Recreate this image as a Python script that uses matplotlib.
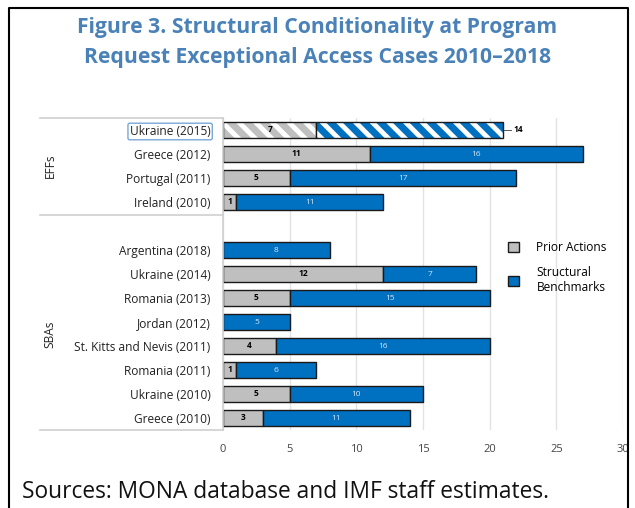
import numpy as np
import matplotlib
matplotlib.use('Agg')
import matplotlib.pyplot as plt
from matplotlib.patches import Patch
from matplotlib.lines import Line2D

plt.rcParams['font.family'] = ['Open Sans', 'DejaVu Sans']
plt.rcParams['hatch.linewidth'] = 3.5

# data, top to bottom
countries = ['Ukraine (2015)', 'Greece (2012)', 'Portugal (2011)', 'Ireland (2010)',
             'Argentina (2018)', 'Ukraine (2014)', 'Romania (2013)', 'Jordan (2012)',
             'St. Kitts and Nevis (2011)', 'Romania (2011)', 'Ukraine (2010)', 'Greece (2010)']
prior_actions = [7, 11, 5, 1, 0, 12, 5, 0, 4, 1, 5, 3]
benchmarks = [14, 16, 17, 11, 8, 7, 15, 5, 16, 6, 10, 11]
rows = [0, 1, 2, 3, 5, 6, 7, 8, 9, 10, 11, 12]
groups = ['EFFs', 'SBAs']
xticks = [0, 5, 10, 15, 20, 25, 30]

GRAY = '#BFBFBF'
BLUE = '#0070C0'
EDGE = '#1a1a1a'

fig = plt.figure(figsize=(6.35, 5.08), dpi=100)
ax = fig.add_axes([223/635, 1-430/508, (623-223)/635, (430-118)/508])

pa = np.array(prior_actions)
sb = np.array(benchmarks)
y = np.array(rows)
h = 0.68

# first row is hatched (projected), rest solid
for i in range(len(y)):
    hatched = i == 0
    if pa[i] > 0:
        if hatched:
            ax.barh(y[i], pa[i], height=h, color=GRAY, edgecolor='white', hatch='\\\\', linewidth=0)
            ax.barh(y[i], pa[i], height=h, fill=False, edgecolor=EDGE, linewidth=1)
        else:
            ax.barh(y[i], pa[i], height=h, color=GRAY, edgecolor=EDGE, linewidth=1)
        ax.text(pa[i]/2, y[i], str(pa[i]), ha='center', va='center', fontsize=6,
                fontweight='bold', color='black')
    if hatched:
        ax.barh(y[i], sb[i], left=pa[i], height=h, color=BLUE, edgecolor='white', hatch='\\\\', linewidth=0)
        ax.barh(y[i], sb[i], left=pa[i], height=h, fill=False, edgecolor=EDGE, linewidth=1)
        end = pa[i] + sb[i]
        ax.plot([end + 0.1, end + 0.6], [y[i], y[i]], color='#555555', lw=0.7)
        ax.text(end + 0.8, y[i], str(sb[i]), ha='left', va='center', fontsize=6,
                fontweight='bold', color='black')
    else:
        ax.barh(y[i], sb[i], left=pa[i], height=h, color=BLUE, edgecolor=EDGE, linewidth=1)
        ax.text(pa[i] + sb[i]/2, y[i], str(sb[i]), ha='center', va='center', fontsize=6,
                color='#d9e8f7')

ax.set_xlim(0, 30)
ax.set_ylim(12.5, -0.5)
ax.set_xticks(xticks)
ax.set_yticks(y)
ax.set_yticklabels(countries)
ax.tick_params(axis='y', length=0, pad=9, labelsize=8.6, labelcolor='#222222')
ax.tick_params(axis='x', length=0, pad=10, labelsize=8, labelcolor='#444444')
ax.grid(axis='x', color='#e3e3e3', lw=1)
ax.set_axisbelow(True)
for s in ax.spines.values():
    s.set_visible(False)

# highlight box on first label
ax.get_yticklabels()[0].set_bbox(dict(boxstyle='round,pad=0.15', fc='white', ec='#7aa7d8', lw=1))

# label-table lines on the left
trans = ax.get_yaxis_transform()
x0 = -(223-40)/400
for yy in [-0.5, 3.55, 12.5]:
    ax.plot([x0, 0], [yy, yy], color='#d0d0d0', lw=1.2, transform=trans, clip_on=False)
ax.plot([0, 0], [-0.5, 12.5], color='#d0d0d0', lw=1.2, transform=trans, clip_on=False)

# group labels
xg = -(223-50)/400
ax.text(xg, 1.5, groups[0], rotation=90, ha='center', va='center', fontsize=8.6,
        transform=trans, color='#222222')
ax.text(xg, 8.5, groups[1], rotation=90, ha='center', va='center', fontsize=8.6,
        transform=trans, color='#222222')

handles = [Patch(facecolor=GRAY, edgecolor=EDGE), Patch(facecolor=BLUE, edgecolor=EDGE)]
fig.legend(handles, ['Prior Actions', 'Structural\nBenchmarks'], loc='upper left',
           bbox_to_anchor=(497/635, 1-230/508), frameon=False, fontsize=8.6,
           handlelength=0.9, handleheight=0.9, handletextpad=1.5, labelspacing=1.0)

fig.text(0.5, 1-28/508, 'Figure 3. Structural Conditionality at Program', ha='center', va='center',
         fontsize=15.2, fontweight='bold', color='#4A82B8')
fig.text(0.5, 1-57/508, 'Request Exceptional Access Cases 2010\u20132018', ha='center', va='center',
         fontsize=15.2, fontweight='bold', color='#4A82B8')
fig.text(22/635, 1-492/508, 'Sources: MONA database and IMF staff estimates.', ha='left', va='center',
         fontsize=16.4, color='#111111')

# outer frame
fig.add_artist(Line2D([9/635, 9/635, 628/635, 628/635], [0, 1-8/508, 1-8/508, 0],
                      transform=fig.transFigure, color='black', lw=1.5))

fig.savefig('out.png', dpi=100)
